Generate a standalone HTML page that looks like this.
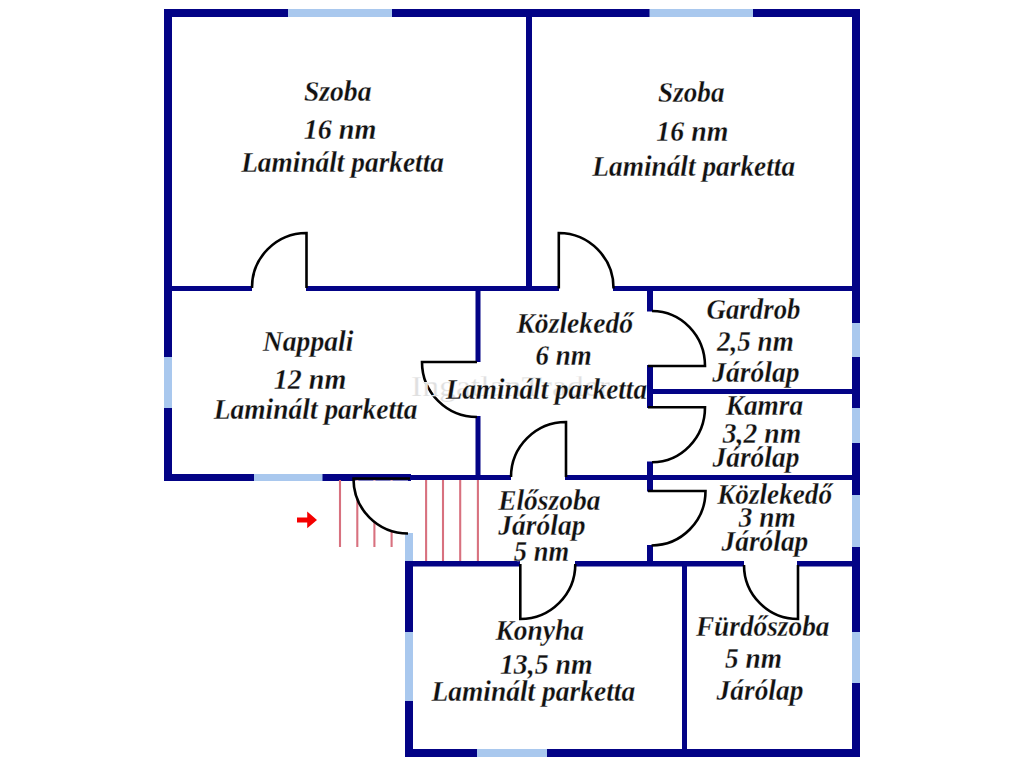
<!DOCTYPE html>
<html><head><meta charset="utf-8"><style>
html,body{margin:0;padding:0;background:#fff;width:1024px;height:768px;overflow:hidden}
svg{display:block}
text{font-family:"Liberation Serif",serif;font-weight:bold;font-style:italic;font-size:27.5px;fill:#111;stroke:#fff;stroke-width:0.25px}
.w{fill:#030386}
.win{fill:#a9c8ee}
.d{fill:none;stroke:#000;stroke-width:2.6}
.st{stroke:#d8717f;stroke-width:2.1}
</style></head><body>
<svg width="1024" height="768" viewBox="0 0 1024 768">
<!-- outer walls -->
<rect class="w" x="164" y="9" width="696" height="8"/>
<rect class="w" x="164" y="9" width="8" height="471"/>
<rect class="w" x="852" y="9" width="8" height="748"/>
<rect class="w" x="405" y="749" width="455" height="8"/>
<rect class="w" x="164" y="474" width="247" height="7"/>
<rect class="w" x="405" y="561" width="8" height="196"/>
<!-- interior walls -->
<rect class="w" x="526" y="15" width="6" height="274"/>
<rect class="w" x="170" y="286" width="82" height="5"/>
<rect class="w" x="306" y="286" width="253" height="5"/>
<rect class="w" x="613" y="286" width="241" height="5"/>
<rect class="w" x="475.5" y="288" width="5" height="74"/>
<rect class="w" x="475.5" y="416" width="5" height="63"/>
<rect class="w" x="410" y="475" width="101" height="5"/>
<rect class="w" x="565" y="475" width="290" height="5"/>
<rect class="w" x="647" y="288" width="6" height="23.5"/>
<rect class="w" x="647" y="365" width="6" height="43"/>
<rect class="w" x="647" y="461.5" width="6" height="30"/>
<rect class="w" x="647" y="545" width="6" height="20"/>
<rect class="w" x="650" y="389" width="204" height="5"/>
<rect class="w" x="410" y="561" width="110" height="5.5"/>
<rect class="w" x="575" y="561" width="169" height="5.5"/>
<rect class="w" x="797" y="561" width="58" height="5.5"/>
<rect class="w" x="682" y="564" width="5" height="188"/>
<!-- windows -->
<rect class="win" x="288" y="9" width="104" height="8"/>
<rect class="win" x="649.5" y="9" width="103.5" height="8"/>
<rect class="win" x="164" y="357" width="8" height="51"/>
<rect class="win" x="254" y="474" width="68.5" height="7"/>
<rect class="win" x="405" y="533" width="8" height="28"/>
<rect class="win" x="405" y="632" width="8" height="69"/>
<rect class="win" x="477" y="749" width="70" height="8"/>
<rect class="win" x="852" y="323" width="8" height="34"/>
<rect class="win" x="852" y="408" width="8" height="35"/>
<rect class="win" x="852" y="495" width="8" height="52"/>
<rect class="win" x="852" y="632" width="8" height="51"/>
<!-- stairs -->
<g class="st">
<line x1="340" y1="480" x2="340" y2="547"/>
<line x1="357.3" y1="480" x2="357.3" y2="547"/>
<line x1="374.4" y1="480" x2="374.4" y2="547"/>
<line x1="391.6" y1="480" x2="391.6" y2="547"/>
<line x1="426.1" y1="480" x2="426.1" y2="561"/>
<line x1="443" y1="480" x2="443" y2="561"/>
<line x1="460.2" y1="480" x2="460.2" y2="561"/>
<line x1="477.9" y1="480" x2="477.9" y2="561"/>
</g>
<!-- arrow -->
<path d="M297 517.6 H307.2 V511.6 L317 519.9 L307.2 528.2 V522.5 H297 Z" fill="#f40000"/>
<!-- doors -->
<path d="M408 480.6 L354 480.6 A54 53 0 0 0 408 533.5 Z" fill="#fff"/>
<path class="d" d="M306.5 288 V233 A54.5 54.5 0 0 0 252 288"/>
<path class="d" d="M558.8 288.5 V233 A55 55 0 0 1 613.5 288.5"/>
<path class="d" d="M477 362 H422 A55 55 0 0 0 477 417"/>
<path class="d" d="M648 366 H705 A53 55 0 0 0 652 311"/>
<path class="d" d="M648 407.2 H705 A53 55 0 0 1 652 462.2"/>
<path class="d" d="M566 477 V422 A55 55 0 0 0 511 477"/>
<path class="d" d="M648 491 H705.5 A54 54.5 0 0 1 651.5 545.5"/>
<path class="d" d="M520.3 564 V619 A55 55 0 0 0 575.3 564"/>
<path class="d" d="M798 565 V619 A54 54 0 0 1 744 565"/>
<path class="d" d="M410 478.5 H353.5 A54.5 54.5 0 0 0 408 533.5"/>
<!-- watermark -->
<text x="411" y="396" textLength="199" lengthAdjust="spacingAndGlyphs" style="font-family:'Liberation Serif',serif;font-style:normal;font-weight:normal;font-size:29px;fill:#e0e0e0">IngatlanTrader</text>
<!-- labels -->
<text transform="translate(303.90 101.20) scale(1.0061 1.04)">Szoba</text>
<text transform="translate(303.63 139.00) scale(1.0232 1.04)">16 nm</text>
<text transform="translate(241.15 171.80) scale(0.9951 1.04)">Laminált parketta</text>
<text transform="translate(658.11 102.00) scale(0.9879 1.04)">Szoba</text>
<text transform="translate(656.34 141.00) scale(1.0130 1.04)">16 nm</text>
<text transform="translate(592.25 176.20) scale(0.9951 1.04)">Laminált parketta</text>
<text transform="translate(262.75 350.80) scale(1.0061 1.04)">Nappali</text>
<text transform="translate(273.73 388.90) scale(1.0203 1.04)">12 nm</text>
<text transform="translate(213.75 418.90) scale(0.9990 1.04)">Laminált parketta</text>
<text transform="translate(516.45 332.70) scale(1.0047 1.04)">Közlekedő</text>
<text transform="translate(535.57 364.50) scale(0.9792 1.04)">6 nm</text>
<text transform="translate(445.65 398.80) scale(0.9872 1.04)">Laminált parketta</text>
<text transform="translate(706.57 319.00) scale(0.9763 1.04)">Gardrob</text>
<text transform="translate(716.95 350.60) scale(0.9857 1.04)">2,5 nm</text>
<text transform="translate(712.30 381.50) scale(1.0029 1.04)">Járólap</text>
<text transform="translate(725.65 415.40) scale(0.9948 1.04)">Kamra</text>
<text transform="translate(722.75 442.50) scale(1.0065 1.04)">3,2 nm</text>
<text transform="translate(712.50 467.20) scale(0.9983 1.04)">Járólap</text>
<text transform="translate(498.15 510.30) scale(0.9990 1.04)">Előszoba</text>
<text transform="translate(498.30 534.50) scale(1.0006 1.04)">Járólap</text>
<text transform="translate(513.86 560.50) scale(0.9668 1.04)">5 nm</text>
<text transform="translate(717.15 504.40) scale(0.9902 1.04)">Közlekedő</text>
<text transform="translate(738.65 526.60) scale(0.9956 1.04)">3 nm</text>
<text transform="translate(721.50 551.20) scale(0.9971 1.04)">Járólap</text>
<text transform="translate(495.45 640.20) scale(1.0006 1.04)">Konyha</text>
<text transform="translate(499.94 673.80) scale(1.0117 1.04)">13,5 nm</text>
<text transform="translate(431.45 701.00) scale(0.9990 1.04)">Laminált parketta</text>
<text transform="translate(695.90 635.60) scale(0.9933 1.04)">Fürdőszoba</text>
<text transform="translate(724.95 667.50) scale(0.9937 1.04)">5 nm</text>
<text transform="translate(716.60 700.00) scale(0.9959 1.04)">Járólap</text>
</svg>
</body></html>
